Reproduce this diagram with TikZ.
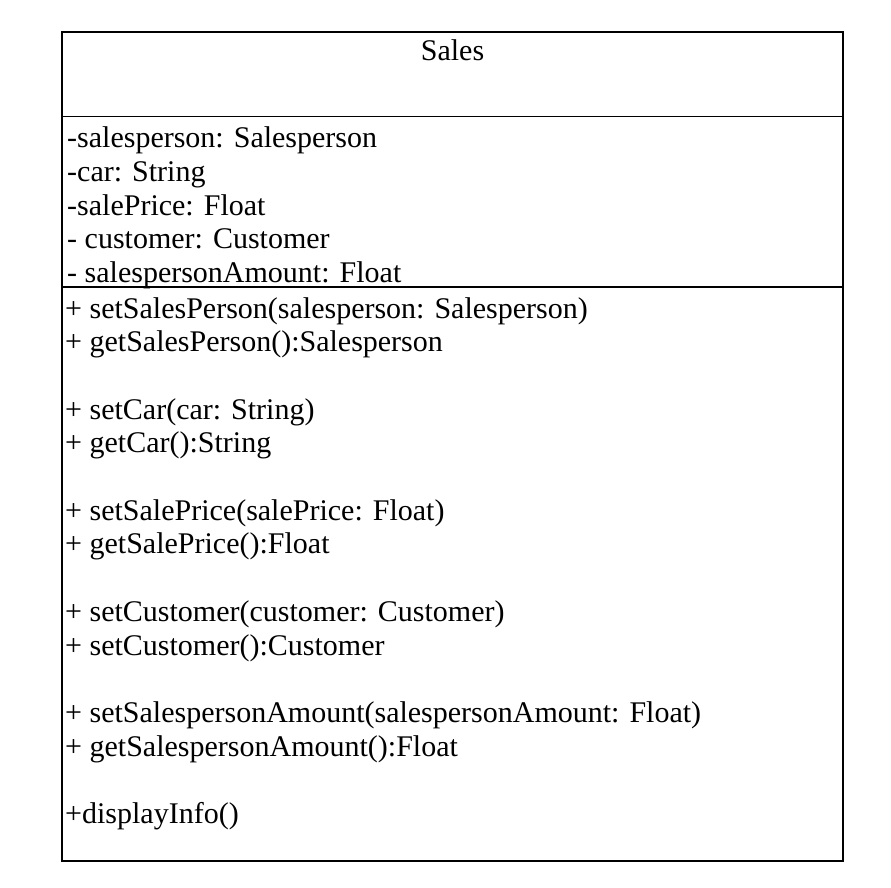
\documentclass[tikz,border=0pt]{standalone}
\usepackage{fontspec}
\setmainfont{Liberation Serif}
\begin{document}
\begin{tikzpicture}[x=1pt,y=1pt,
  txt/.style={anchor=base west, inner sep=0pt, font=\fontsize{30}{34}\selectfont},
  ttl/.style={anchor=base, inner sep=0pt, font=\fontsize{30}{34}\selectfont},
  frame/.style={draw=black, line width=1.8pt}]
\useasboundingbox (0,0) rectangle (891,-888);
\fill[white] (0,0) rectangle (891,-888);
\coordinate (tl) at (62,-32);
\coordinate (br) at (843,-861);
\draw[frame] (tl) rectangle (br);
\coordinate (d1l) at (62,-116.5);
\coordinate (d1r) at (843,-116.5);
\coordinate (d2l) at (62,-287);
\coordinate (d2r) at (843,-287);
\draw[frame] (d1l) -- (d1r);
\draw[frame] (d2l) -- (d2r);
\node[ttl] (title) at (452.5,-61) {Sales};
\node[txt] (a1) at (67,-147) {-salesperson: Salesperson};
\node[txt] (a2) at (67,-181) {-car: String};
\node[txt] (a3) at (67,-215) {-salePrice: Float};
\node[txt] (a4) at (67,-248.5) {- customer: Customer};
\node[txt] (a5) at (67,-282) {- salespersonAmount: Float};
\node[txt] (m1) at (65,-318) {+ setSalesPerson(salesperson: Salesperson)};
\node[txt] (m2) at (65,-351.7) {+ getSalesPerson():Salesperson};
\node[txt] (m3) at (65,-419.1) {+ setCar(car: String)};
\node[txt] (m4) at (65,-452.8) {+ getCar():String};
\node[txt] (m5) at (65,-520.2) {+ setSalePrice(salePrice: Float)};
\node[txt] (m6) at (65,-553.9) {+ getSalePrice():Float};
\node[txt] (m7) at (65,-621.3) {+ setCustomer(customer: Customer)};
\node[txt] (m8) at (65,-655) {+ setCustomer():Customer};
\node[txt] (m9) at (65,-722.4) {+ setSalespersonAmount(salespersonAmount: Float)};
\node[txt] (m10) at (65,-756.1) {+ getSalespersonAmount():Float};
\node[txt] (m11) at (65,-823.5) {+displayInfo()};
\end{tikzpicture}
\end{document}
